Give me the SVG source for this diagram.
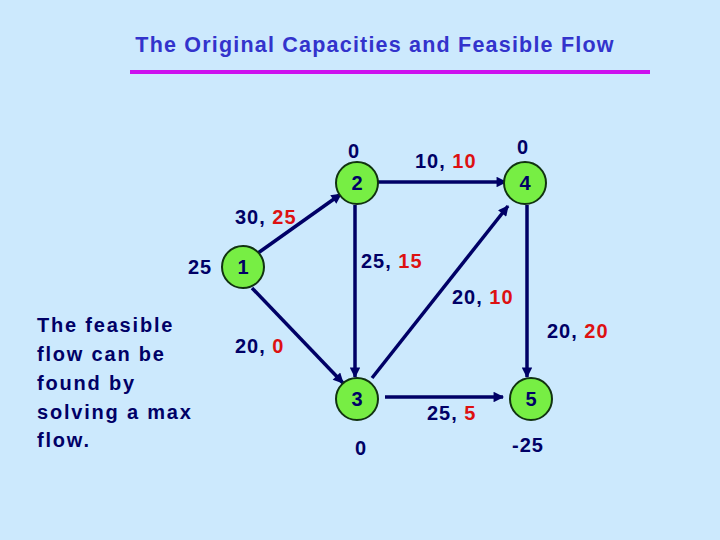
<svg xmlns="http://www.w3.org/2000/svg" width="720" height="540" viewBox="0 0 720 540">
<style>
.t{font-family:"Liberation Sans",Arial,sans-serif;font-weight:bold;fill:#000066}
.lbl{font-size:20px;letter-spacing:1px}
.r{fill:#dd1111}
.node circle{fill:#77ee44;stroke:#113311;stroke-width:2}
.node text{font-size:20px;text-anchor:middle}
.edge{stroke:#000066;stroke-width:3.5;fill:none;marker-end:url(#ah)}
</style>
<defs>
<marker id="ah" viewBox="0 0 10 10" refX="9" refY="5" markerWidth="3.5" markerHeight="3" orient="auto" markerUnits="strokeWidth">
<path d="M0,0 L10,5 L0,10 Z" fill="#000066"/>
</marker>
</defs>
<rect width="720" height="540" fill="#cce9fd"/>
<text x="375" y="52" text-anchor="middle" style="font-family:'Liberation Sans',Arial,sans-serif;font-weight:bold;font-size:21.5px;letter-spacing:1.2px;fill:#3333cc">The Original Capacities and Feasible Flow</text>
<rect x="130" y="70" width="520" height="4" fill="#cc11ee"/>
<g id="connectors">
<line class="edge" x1="258" y1="253" x2="341" y2="194"/>
<line class="edge" x1="378" y1="182" x2="506" y2="182"/>
<line class="edge" x1="355" y1="205" x2="355" y2="377"/>
<line class="edge" x1="372" y1="378" x2="508" y2="206"/>
<line class="edge" x1="252" y1="288" x2="343" y2="383"/>
<line class="edge" x1="527" y1="205" x2="527" y2="377"/>
<line class="edge" x1="385" y1="397" x2="503" y2="397"/>
</g>
<g id="node1" class="node"><circle cx="243" cy="267" r="21"/><text class="t" x="243" y="274">1</text></g>
<g id="node2" class="node"><circle cx="357" cy="183" r="21"/><text class="t" x="357" y="190">2</text></g>
<g id="node3" class="node"><circle cx="357" cy="399" r="21"/><text class="t" x="357" y="406">3</text></g>
<g id="node4" class="node"><circle cx="525" cy="183" r="21"/><text class="t" x="525" y="190">4</text></g>
<g id="node5" class="node"><circle cx="531" cy="399" r="21"/><text class="t" x="531" y="406">5</text></g>
<g id="labels" class="t lbl">
<text x="354" y="158" text-anchor="middle">0</text>
<text x="523" y="154" text-anchor="middle">0</text>
<text x="415" y="168">10, <tspan class="r">10</tspan></text>
<text x="235" y="224">30, <tspan class="r">25</tspan></text>
<text x="188" y="274">25</text>
<text x="361" y="268">25, <tspan class="r">15</tspan></text>
<text x="452" y="304">20, <tspan class="r">10</tspan></text>
<text x="547" y="338">20, <tspan class="r">20</tspan></text>
<text x="235" y="353">20, <tspan class="r">0</tspan></text>
<text x="427" y="420">25, <tspan class="r">5</tspan></text>
<text x="361" y="455" text-anchor="middle">0</text>
<text x="528" y="452" text-anchor="middle">-25</text>
</g>
<g id="note" class="t" style="font-size:20px;letter-spacing:1.8px">
<text x="37" y="332">The feasible</text>
<text x="37" y="361">flow can be</text>
<text x="37" y="390">found by</text>
<text x="37" y="419">solving a max</text>
<text x="37" y="447">flow.</text>
</g>
</svg>
